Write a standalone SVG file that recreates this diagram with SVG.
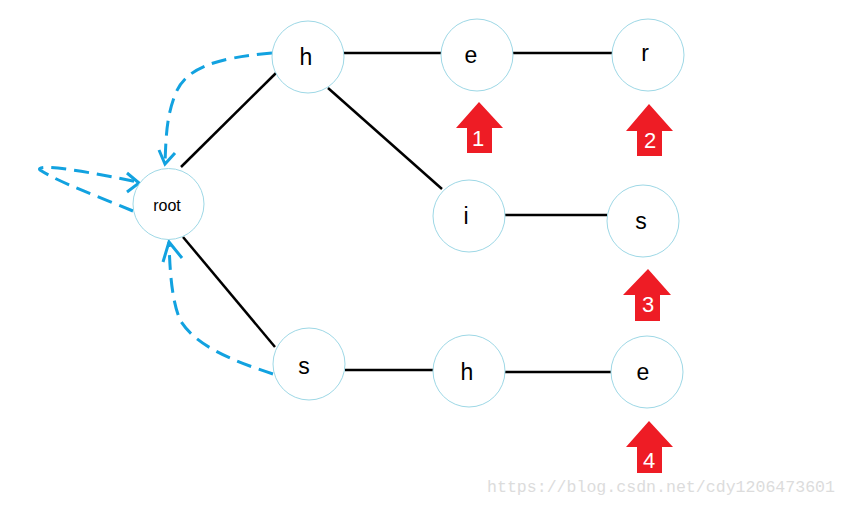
<svg xmlns="http://www.w3.org/2000/svg" width="847" height="505" viewBox="0 0 847 505">
<style>
.node circle{fill:#fff;stroke:#9ed8e6;stroke-width:1}
.node text{font-family:"Liberation Sans","DejaVu Sans",sans-serif;font-size:23px;fill:#000;text-anchor:middle;dominant-baseline:central}
.edge{stroke:#000;stroke-width:2.5;fill:none}
.dash{stroke:#12a2e0;stroke-width:3;fill:none;stroke-dasharray:15 8}
.head{stroke:#12a2e0;stroke-width:3;fill:none}
.arrow polygon{fill:#ee1c25}
.arrow text{font-family:"Liberation Sans","DejaVu Sans",sans-serif;font-size:22px;fill:#fff;text-anchor:middle;dominant-baseline:central}
</style>
<rect width="847" height="505" fill="#fff"/>
<g id="connectors">
<line class="edge" x1="276" y1="73" x2="181" y2="167"/>
<line class="edge" x1="183" y1="237" x2="275" y2="347"/>
<line class="edge" x1="344" y1="53" x2="441" y2="53"/>
<line class="edge" x1="513" y1="53" x2="612" y2="53"/>
<line class="edge" x1="328" y1="88" x2="442" y2="189"/>
<line class="edge" x1="505" y1="215" x2="607" y2="215"/>
<line class="edge" x1="345" y1="370" x2="434" y2="370"/>
<line class="edge" x1="505" y1="372" x2="611" y2="372"/>
<path class="dash" d="M272 53 C215 58 185 68 175 95 C166 118 166 140 165 163"/>
<path class="head" d="M159 150 L165 164 L175 153"/>
<path class="dash" d="M133 211 C100 197 60 183 40 170 C36 165 60 166 138 182"/>
<path class="head" d="M127 173 L139 183 L127 192"/>
<path class="dash" d="M273 374 C230 360 195 345 180 320 C172 300 170 275 169 242"/>
<path class="head" d="M163 262 L169 242 L182 258"/>
</g>
<g id="n-root" class="node"><circle cx="168.5" cy="204" r="35.5"/><text x="167" y="205" style="font-size:16px">root</text></g>
<g id="n-h1" class="node"><circle cx="308" cy="57" r="36"/><text x="306" y="57">h</text></g>
<g id="n-e1" class="node"><circle cx="477" cy="55" r="36"/><text x="471" y="55">e</text></g>
<g id="n-r" class="node"><circle cx="648" cy="55" r="36"/><text x="645" y="53">r</text></g>
<g id="n-i" class="node"><circle cx="469" cy="216" r="36"/><text x="466" y="216">i</text></g>
<g id="n-s1" class="node"><circle cx="643" cy="221" r="36"/><text x="641" y="221">s</text></g>
<g id="n-s2" class="node"><circle cx="309" cy="364" r="36"/><text x="304" y="366">s</text></g>
<g id="n-h2" class="node"><circle cx="469" cy="371" r="36"/><text x="467" y="372">h</text></g>
<g id="n-e2" class="node"><circle cx="647" cy="372" r="36"/><text x="643" y="372">e</text></g>
<g id="arrow1" class="arrow"><polygon points="479,102 503,128 492,128 492,153 467,153 467,128 456,128"/><text x="478" y="138">1</text></g>
<g id="arrow2" class="arrow"><polygon points="649,104 673,131 662,131 662,156 637,156 637,131 626,131"/><text x="650" y="140">2</text></g>
<g id="arrow3" class="arrow"><polygon points="648,269 671,295 660,295 660,321 635,321 635,295 623,295"/><text x="648" y="304">3</text></g>
<g id="arrow4" class="arrow"><polygon points="649,421 673,447 662,447 662,473 637,473 637,447 626,447"/><text x="649" y="460">4</text></g>
<text x="487" y="492" textLength="348" lengthAdjust="spacingAndGlyphs" style="font-family:'Liberation Mono','DejaVu Sans Mono',monospace;font-size:17px;fill:#dcdcdc">https://blog.csdn.net/cdy1206473601</text>
</svg>
